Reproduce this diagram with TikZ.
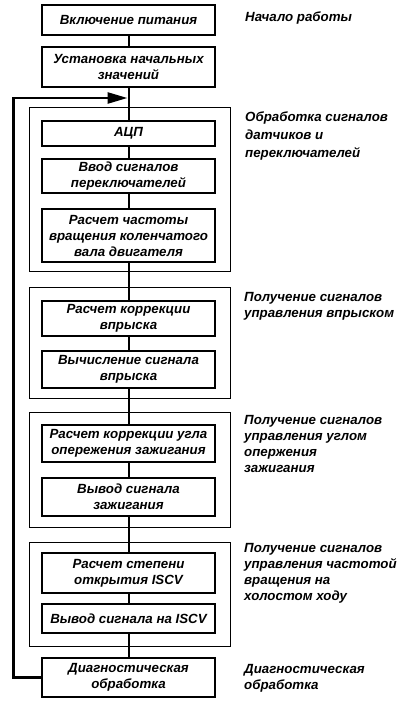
\documentclass[tikz,border=0pt]{standalone}
\usepackage{fontspec}
\setmainfont{Liberation Sans}
\usetikzlibrary{arrows.meta}
\begin{document}
\begin{tikzpicture}[x=1pt,y=-1pt,
  txt/.style={font=\fontsize{13.3}{16}\selectfont\bfseries\itshape},
  box/.style={txt, draw, line width=1.1pt, minimum width=173pt, inner sep=0pt, align=center},
  grp/.style={draw, line width=0.9pt, inner sep=0pt},
  lab/.style={txt, anchor=west, inner sep=0pt, align=left},
  link/.style={line width=2pt},
  back/.style={line width=2.5pt, -{Triangle[length=20pt,width=11pt]}}]
\useasboundingbox[fill=white] (0,0) rectangle (400,706);
% groups
\node[grp, minimum width=201pt, minimum height=164pt] (g1) at (129.5,189) {};
\node[grp, minimum width=201pt, minimum height=111pt] (g2) at (129.5,342.5) {};
\node[grp, minimum width=201pt, minimum height=115pt] (g3) at (129.5,469.5) {};
\node[grp, minimum width=201pt, minimum height=104pt] (g4) at (129.5,594) {};
% boxes
\node[box, minimum height=30pt] (b1) at (128.5,20) {Включение питания};
\node[box, minimum height=40pt] (b2) at (128.5,67) {Установка начальных\\значений};
\node[box, minimum height=25pt] (adc) at (128.5,133.5) {АЦП};
\node[box, minimum height=34pt] (vvod) at (128.5,176) {Ввод сигналов\\переключателей};
\node[box, minimum height=53pt] (rasch) at (128.5,235.5) {Расчет частоты\\вращения коленчатого\\вала двигателя};
\node[box, minimum height=35pt] (kor) at (128.5,318.5) {Расчет коррекции\\впрыска};
\node[box, minimum height=37pt] (vych) at (128.5,369.5) {Вычисление сигнала\\впрыска};
\node[box, minimum height=37pt] (ugol) at (128.5,443.5) {Расчет коррекции угла\\опережения зажигания};
\node[box, minimum height=38pt] (vyvz) at (128.5,497) {Вывод сигнала\\зажигания};
\node[box, minimum height=40pt] (step) at (128.5,573) {Расчет степени\\открытия ISCV};
\node[box, minimum height=29pt] (iscv) at (128.5,618.5) {Вывод сигнала на ISCV};
\node[box, minimum height=39pt] (diag) at (128.5,677.5) {Диагностическая\\обработка};
% labels
\node[lab] (l1) at (245,18) {Начало работы};
\node[lab, font=\fontsize{13.3}{18}\selectfont\bfseries\itshape] (l2) at (245,136) {Обработка сигналов\\датчиков и\\переключателей};
\node[lab] (l3) at (244,306) {Получение сигналов\\управления впрыском};
\node[lab] (l4) at (244,444) {Получение сигналов\\управления углом\\опержения\\зажигания};
\node[lab] (l5) at (244,573) {Получение сигналов\\управления частотой\\вращения на\\холостом ходу};
\node[lab] (l6) at (244,678) {Диагностическая\\обработка};
% connectors
\coordinate (merge) at (128.5,98);
\draw[link] (b1) -- (b2);
\draw[link] (b2) -- (adc);
\draw[link] (adc) -- (vvod);
\draw[link] (vvod) -- (rasch);
\draw[link] (rasch) -- (kor);
\draw[link] (kor) -- (vych);
\draw[link] (vych) -- (ugol);
\draw[link] (ugol) -- (vyvz);
\draw[link] (vyvz) -- (step);
\draw[link] (step) -- (iscv);
\draw[link] (iscv) -- (diag);
\draw[back] (diag.west) -- ++(-28,0) |- ([xshift=-1pt]merge);
\end{tikzpicture}
\end{document}
